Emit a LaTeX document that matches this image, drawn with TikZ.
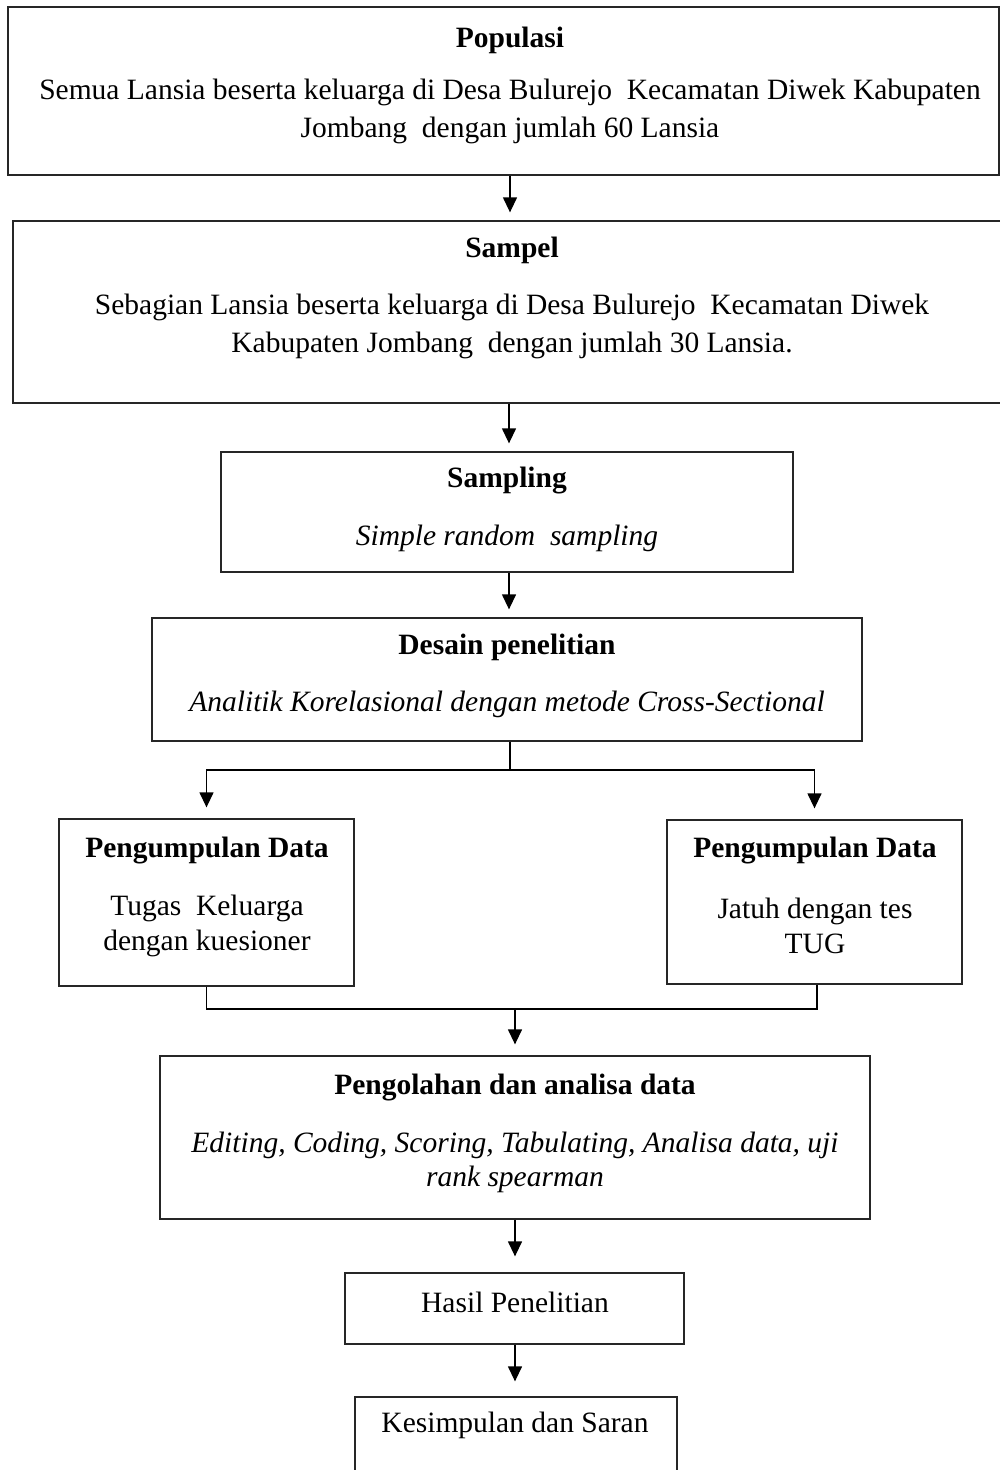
\documentclass[tikz,border=0pt]{standalone}
\usepackage{fontspec}
\setmainfont{Liberation Serif}
\usetikzlibrary{arrows.meta}
\begin{document}
\begin{tikzpicture}[x=1pt,y=-1pt,
  boxst/.style={draw=black!85,line width=1.3pt,inner sep=0pt,fill=none},
  txt/.style={inner sep=0pt,align=center,font=\fontsize{29.5}{36}\selectfont},
  ttl/.style={inner sep=0pt,align=center,font=\fontsize{29.5}{36}\selectfont\bfseries},
  arr/.style={line width=1.3pt,-{Triangle[length=15pt,width=14pt]}},
  ln/.style={line width=1.3pt}]
\clip (0,0) rectangle (1000,1470);
\fill[white] (0,0) rectangle (1000,1470);
% boxes
\node[boxst,minimum width=991pt,minimum height=168pt] (pop) at (503.5,91) {};
\node[boxst,minimum width=990pt,minimum height=182pt] (sam) at (508,312) {};
\node[boxst,minimum width=572pt,minimum height=120pt] (spl) at (507,512) {};
\node[boxst,minimum width=710pt,minimum height=123pt] (des) at (507,679.5) {};
\node[boxst,minimum width=295pt,minimum height=167pt] (pl) at (206.5,902.5) {};
\node[boxst,minimum width=295pt,minimum height=164pt] (pr) at (814.5,902) {};
\node[boxst,minimum width=710pt,minimum height=163pt] (pgl) at (515,1137.5) {};
\node[boxst,minimum width=339pt,minimum height=71pt] (has) at (514.5,1308.5) {};
\node[boxst,minimum width=322pt,minimum height=120pt] (kes) at (516,1457) {};
% texts
\node[ttl] (t1) at (510,40) {Populasi};
\node[txt,font=\fontsize{29.5}{38}\selectfont] (t1b) at (510,111) {Semua Lansia beserta keluarga di Desa Bulurejo\ \ Kecamatan Diwek Kabupaten\\ Jombang\ \ dengan jumlah 60 Lansia};
\node[ttl] (t2) at (512,250) {Sampel};
\node[txt,font=\fontsize{29.5}{38}\selectfont] (t2b) at (512,326) {Sebagian Lansia beserta keluarga di Desa Bulurejo\ \ Kecamatan Diwek\\ Kabupaten Jombang\ \ dengan jumlah 30 Lansia.};
\node[ttl] (t3) at (507,481) {Sampling};
\node[txt,font=\fontsize{29.5}{36}\selectfont\itshape] (t3b) at (507,538) {Simple random\ \ sampling};
\node[ttl] (t4) at (507,647) {Desain penelitian};
\node[txt,font=\fontsize{29.5}{36}\selectfont\itshape] (t4b) at (507,704) {Analitik Korelasional dengan metode Cross-Sectional};
\node[ttl] (t5) at (207,851) {Pengumpulan Data};
\node[txt,font=\fontsize{29.5}{35}\selectfont] (t5b) at (207,925.5) {Tugas\ \ Keluarga\\dengan kuesioner};
\node[ttl] (t6) at (815,851) {Pengumpulan Data};
\node[txt,font=\fontsize{29.5}{35}\selectfont] (t6b) at (815,925.5) {Jatuh dengan tes\\TUG};
\node[ttl] (t7) at (515,1088) {Pengolahan dan analisa data};
\node[txt,font=\fontsize{29.5}{34}\selectfont\itshape] (t7b) at (515,1162) {Editing, Coding, Scoring, Tabulating, Analisa data, uji\\rank spearman};
\node[txt] (t8) at (515,1302) {Hasil Penelitian};
\node[txt] (t9) at (515,1425) {Kesimpulan dan Saran};
% connectors
\draw[arr,shorten >=8pt] (pop.south -| 510,0) -- (sam.north -| 510,0);
\draw[arr,shorten >=8pt] (sam.south -| 509,0) -- (spl.north -| 509,0);
\draw[arr,shorten >=8pt] (spl.south -| 509,0) -- (des.north -| 509,0);
\coordinate (split) at (510,770);
\draw[ln] (des.south -| split) -- (split);
\draw[arr,shorten >=11pt] (split) -| (pl.north);
\draw[arr,shorten >=11pt] (split) -| (pr.north);
\coordinate (merge) at (515,1009);
\draw[ln] (pl.south) |- (merge);
\draw[ln] (pr.south -| 817,0) |- (merge);
\draw[arr,shorten >=11pt] (merge) -- (pgl.north -| merge);
\draw[arr,shorten >=16pt] (pgl.south -| merge) -- (has.north -| merge);
\draw[arr,shorten >=15pt] (has.south -| merge) -- (kes.north -| merge);
\end{tikzpicture}
\end{document}
